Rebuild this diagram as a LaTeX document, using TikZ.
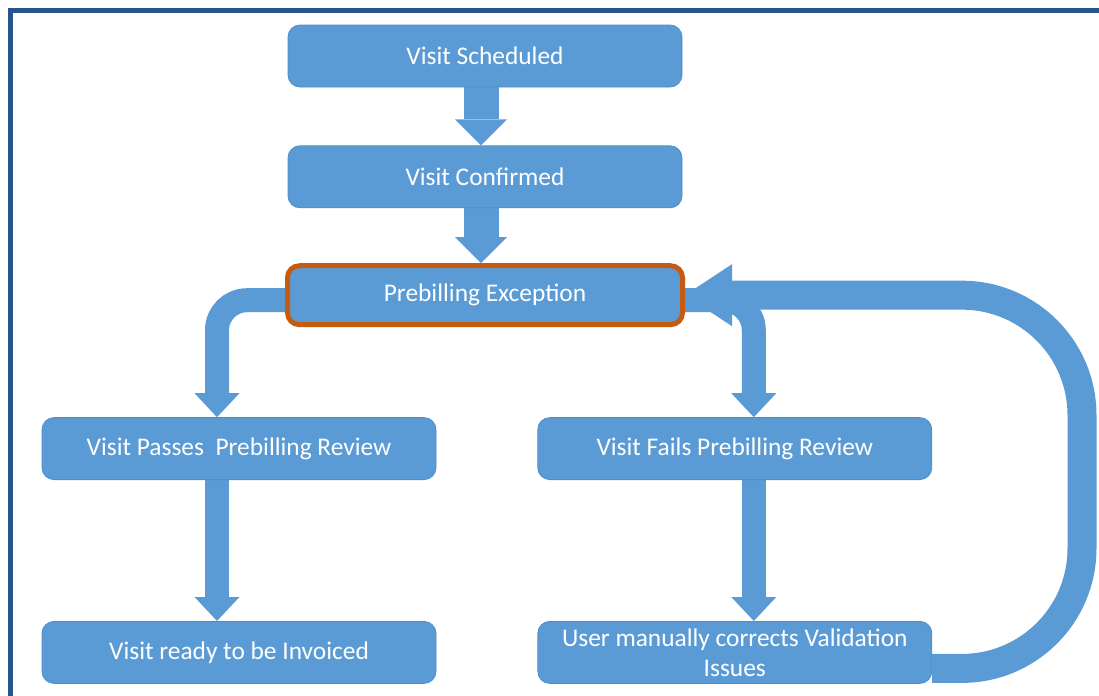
\documentclass[tikz,border=0pt]{standalone}
\usepackage{fontspec}
\setmainfont{Carlito}
\usetikzlibrary{positioning,arrows.meta,backgrounds}
\definecolor{boxblue}{RGB}{91,155,213}
\definecolor{edgeblue}{RGB}{80,140,200}
\definecolor{excorange}{RGB}{197,90,17}
\definecolor{framenavy}{RGB}{41,82,145}
\begin{document}
\begin{tikzpicture}[
  node distance=29pt and 50.5pt,
  box/.style={draw=edgeblue, line width=0.4pt, fill=boxblue, rounded corners=6pt, align=center, text=white,
    font=\fontsize{12.7}{15}\selectfont, minimum width=197pt, minimum height=31pt, inner xsep=2pt, inner ysep=2pt},
  excbox/.style={box, draw=excorange, line width=2.5pt, minimum width=197.5pt, minimum height=29.5pt},
  arr/.style={draw=boxblue, line width=12pt, -{Triangle[width=22.5pt, length=12pt, line width=0pt]}},
  bigarr/.style={arr, line width=17.5pt, -{Triangle[width=26pt, length=13pt, line width=0pt]}},
  backarr/.style={arr, line width=14.5pt, -{Triangle[width=31pt, length=23.5pt, line width=0pt]}}]
\useasboundingbox (0,0) rectangle (549.5pt,-348pt);
\draw[framenavy, line width=2.5pt] (549.5pt,-5.25pt) -- (5.25pt,-5.25pt) -- (5.25pt,-348pt);
\node[box] (sched) at (242.5pt,-28pt) {Visit Scheduled};
\node[box, below=of sched] (conf) {Visit Confirmed};
\node[excbox, below=27.5pt of conf] (exc) {Prebilling Exception};
\node[box, below=45pt of exc, xshift=-123pt] (pass) {Visit Passes\ \ Prebilling Review};
\node[box, right=of pass] (fail) {Visit Fails Prebilling Review};
\node[box, below=70.5pt of pass] (inv) {Visit ready to be Invoiced};
\node[box, below=70.5pt of fail] (user) {User manually corrects Validation\\Issues};
\coordinate (ret) at (541pt,0pt);
\begin{scope}[on background layer]
\draw[bigarr] ([xshift=-2pt]sched.south) -- ([xshift=-2pt]conf.north);
\draw[bigarr] ([xshift=-2pt]conf.south) -- ([xshift=-2pt]exc.north);
\draw[arr, rounded corners=15pt] ([yshift=-2.5pt]exc.west) -| ([xshift=-11pt]pass.north);
\draw[arr, rounded corners=15pt] ([yshift=-2.5pt]exc.east) -| ([xshift=9.5pt]fail.north);
\draw[arr] ([xshift=-11pt]pass.south) -- ([xshift=-11pt]inv.north);
\draw[arr] ([xshift=9.5pt]fail.south) -- ([xshift=9.5pt]user.north);
\end{scope}
\draw[backarr, rounded corners=60pt] ([yshift=-8pt]user.east) -| (ret |- exc.east) -- (exc.east);
\end{tikzpicture}
\end{document}
